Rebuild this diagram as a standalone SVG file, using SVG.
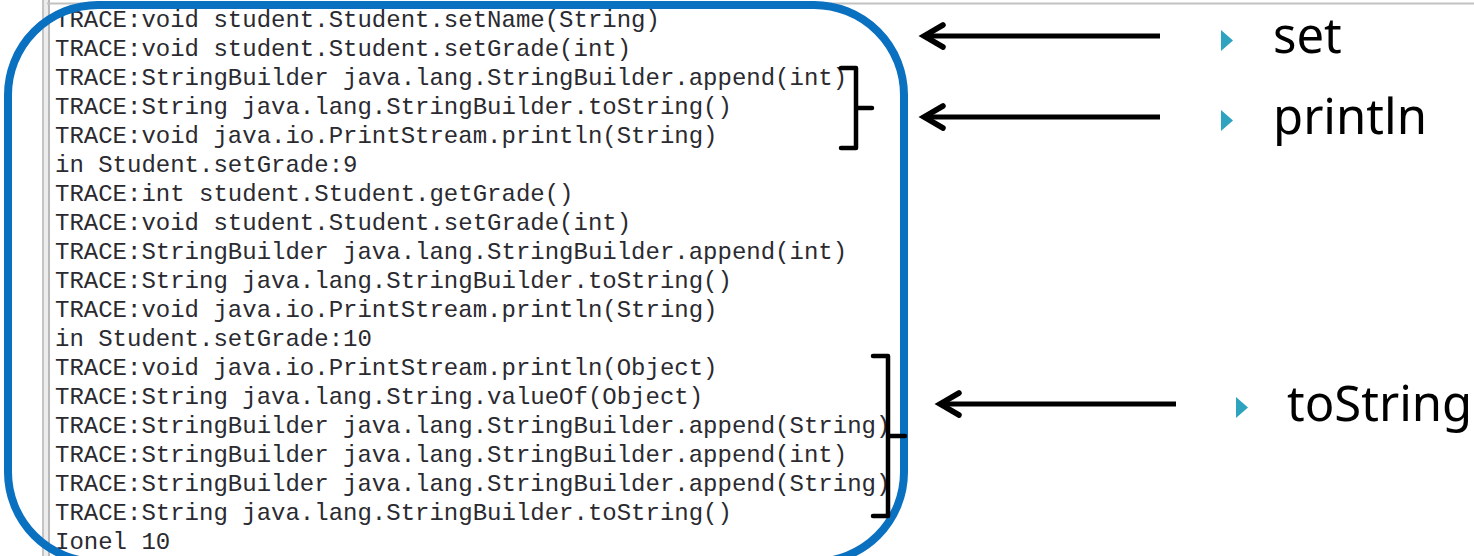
<svg xmlns="http://www.w3.org/2000/svg" width="1474" height="556" viewBox="0 0 1474 556">
  <style>
    .log { font-family: "Liberation Mono", "Courier New", monospace; font-size: 24px; fill: #2a2a30; }
    .label { font-family: "Noto Sans", "Open Sans", sans-serif; font-size: 49px; fill: #000; }
    .bullet { fill: #2ea3c0; }
    .bracket { fill: none; stroke: #000; stroke-width: 4.5; stroke-linejoin: round; stroke-linecap: round; }
    .arrow { fill: none; stroke: #000; stroke-width: 5; stroke-linecap: butt; }
    .head { fill: none; stroke: #000; stroke-width: 5.5; stroke-linecap: round; stroke-linejoin: miter; }
  </style>
  <defs>
    <clipPath id="consoleClip">
      <rect x="50" y="5" width="838" height="551"/>
    </clipPath>
  </defs>

  <rect x="0" y="0" width="1474" height="556" fill="#fff"/>

  <!-- console window frame -->
  <g id="console-frame">
    <rect x="42" y="0" width="8" height="556" fill="#ececec"/>
    <line x1="43" y1="0" x2="43" y2="556" stroke="#c4c4c4" stroke-width="2"/>
    <line x1="49" y1="0" x2="49" y2="556" stroke="#a9a9a9" stroke-width="1.5"/>
    <line x1="47" y1="3.5" x2="1474" y2="3.5" stroke="#c2c2c2" stroke-width="2"/>
  </g>

  <!-- trace output -->
  <g id="console-log" class="log" clip-path="url(#consoleClip)">
    <text x="55" y="27">TRACE:void student.Student.setName(String)</text>
    <text x="55" y="56">TRACE:void student.Student.setGrade(int)</text>
    <text x="55" y="85">TRACE:StringBuilder java.lang.StringBuilder.append(int)</text>
    <text x="55" y="114">TRACE:String java.lang.StringBuilder.toString()</text>
    <text x="55" y="143">TRACE:void java.io.PrintStream.println(String)</text>
    <text x="55" y="172">in Student.setGrade:9</text>
    <text x="55" y="201">TRACE:int student.Student.getGrade()</text>
    <text x="55" y="230">TRACE:void student.Student.setGrade(int)</text>
    <text x="55" y="259">TRACE:StringBuilder java.lang.StringBuilder.append(int)</text>
    <text x="55" y="288">TRACE:String java.lang.StringBuilder.toString()</text>
    <text x="55" y="317">TRACE:void java.io.PrintStream.println(String)</text>
    <text x="55" y="346">in Student.setGrade:10</text>
    <text x="55" y="375">TRACE:void java.io.PrintStream.println(Object)</text>
    <text x="55" y="404">TRACE:String java.lang.String.valueOf(Object)</text>
    <text x="55" y="433">TRACE:StringBuilder java.lang.StringBuilder.append(String)</text>
    <text x="55" y="462">TRACE:StringBuilder java.lang.StringBuilder.append(int)</text>
    <text x="55" y="491">TRACE:StringBuilder java.lang.StringBuilder.append(String)</text>
    <text x="55" y="520">TRACE:String java.lang.StringBuilder.toString()</text>
    <text x="55" y="549">Ionel 10</text>
  </g>

  <!-- rounded highlight around the log -->
  <g id="highlight">
    <rect x="8" y="5" width="896" height="557" rx="90" ry="90" fill="none" stroke="#0a70c0" stroke-width="8"/>
  </g>

  <!-- braces grouping calls -->
  <g id="brace-println">
    <path class="bracket" d="M841,68 H856 V148 H841 M856,108 H872"/>
  </g>
  <g id="brace-tostring">
    <path class="bracket" d="M873,356 H888 V516 H873 M888,436 H905"/>
  </g>

  <!-- labels -->
  <g id="label-set">
    <polygon class="bullet" points="1221,30 1233,40.5 1221,51"/>
    <text class="label" x="1273" y="53">set</text>
  </g>
  <g id="label-println">
    <polygon class="bullet" points="1221,110 1233,120.5 1221,131"/>
    <text class="label" x="1273" y="134">println</text>
  </g>
  <g id="label-tostring">
    <polygon class="bullet" points="1236,397 1248,407.5 1236,418"/>
    <text class="label" x="1287" y="421">toString</text>
  </g>

  <!-- connectors -->
  <g id="connectors">
    <line class="arrow" x1="1160" y1="36" x2="925" y2="36"/>
    <polyline class="head" points="943,25 924,36 943,47"/>
    <line class="arrow" x1="1160" y1="117" x2="925" y2="117"/>
    <polyline class="head" points="943,106 924,117 943,128"/>
    <line class="arrow" x1="1176" y1="404" x2="941" y2="404"/>
    <polyline class="head" points="959,393 940,404 959,415"/>
  </g>
</svg>
